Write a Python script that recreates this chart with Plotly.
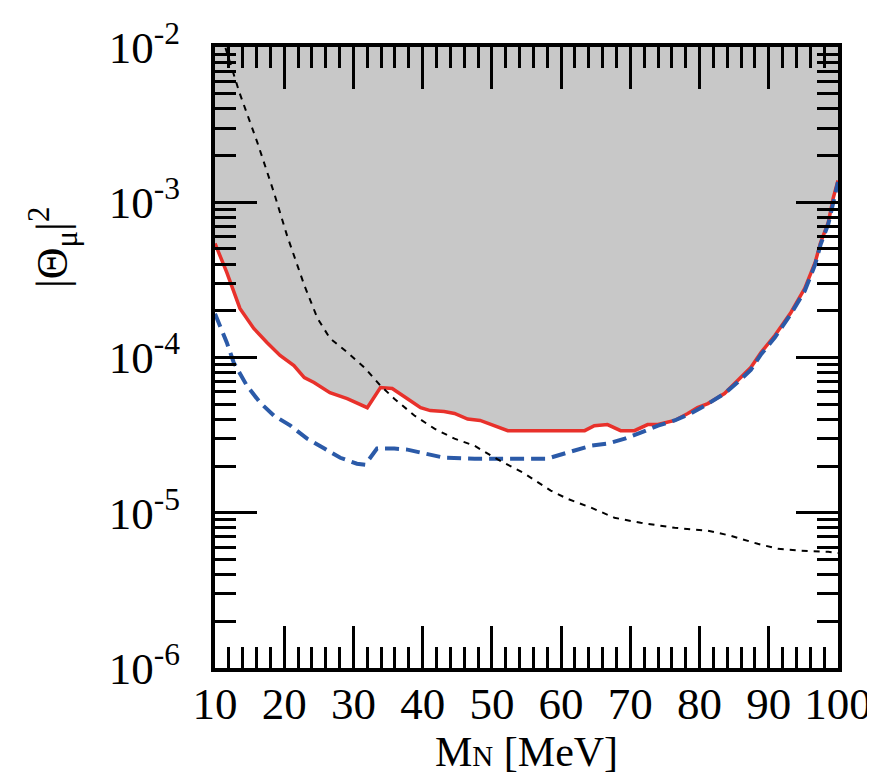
import plotly.graph_objects as go

# ---------------- data ----------------
red_x = [10.0, 11.7, 13.6, 15.6, 17.5, 19.4, 21.4, 22.9, 24.3, 26.6, 29.1, 32.0, 33.9, 35.6,
         37.8, 39.7, 41.1, 43.1, 44.6, 46.5, 48.3, 50.4, 52.3, 63.4, 64.8, 66.7, 68.6, 70.6,
         72.5, 74.0, 76.4, 78.3, 79.7, 81.2, 83.6, 85.5, 87.4, 88.9, 90.9, 93.2, 95.2, 96.7,
         97.5, 98.6, 99.3, 100.0]
red_y = [5.43e-4, 3.53e-4, 2.07e-4, 1.54e-4, 1.25e-4, 1.03e-4, 8.87e-5, 7.43e-5, 6.90e-5,
         5.94e-5, 5.43e-5, 4.75e-5, 6.40e-5, 6.31e-5, 5.43e-5, 4.75e-5, 4.55e-5, 4.49e-5,
         4.36e-5, 4.01e-5, 3.93e-5, 3.64e-5, 3.38e-5, 3.38e-5, 3.64e-5, 3.70e-5, 3.38e-5,
         3.38e-5, 3.70e-5, 3.70e-5, 3.93e-5, 4.36e-5, 4.75e-5, 5.05e-5, 5.86e-5, 7.11e-5,
         8.61e-5, 1.08e-4, 1.39e-4, 1.95e-4, 2.79e-4, 4.10e-4, 5.52e-4, 7.43e-4, 1.06e-3,
         1.38e-3]

blue_x = [10.0, 11.7, 12.7, 14.6, 16.5, 18.5, 20.9, 23.3, 25.8, 28.1, 30.5, 31.7, 33.4, 35.9,
          37.8, 40.7, 43.1, 47.5, 58.0, 60.9, 64.3, 66.7, 69.2, 71.5, 74.0, 76.4, 78.7, 80.8,
          83.6, 85.5, 87.4, 88.9, 90.9, 93.2, 95.2, 96.7, 97.5, 98.6, 99.3, 100.0]
blue_y = [1.91e-4, 1.25e-4, 9.29e-5, 6.59e-5, 5.13e-5, 4.23e-5, 3.64e-5, 3.00e-5, 2.59e-5,
          2.26e-5, 2.07e-5, 2.04e-5, 2.59e-5, 2.59e-5, 2.55e-5, 2.40e-5, 2.26e-5, 2.23e-5,
          2.23e-5, 2.44e-5, 2.70e-5, 2.79e-5, 3.00e-5, 3.28e-5, 3.64e-5, 3.93e-5, 4.36e-5,
          4.90e-5, 5.86e-5, 6.92e-5, 8.32e-5, 1.05e-4, 1.35e-4, 1.91e-4, 2.69e-4, 3.98e-4,
          5.37e-4, 7.24e-4, 1.02e-3, 1.35e-3]

black_x = [11.0, 13.5, 16.1, 18.5, 20.4, 22.9, 24.8, 26.6, 29.1, 31.6, 33.9, 35.9, 38.8, 41.7,
           44.6, 47.5, 50.4, 54.7, 58.5, 60.9, 64.3, 67.7, 71.5, 76.4, 81.2, 84.5, 88.4, 91.3,
           94.6, 98.6, 100.0]
black_y = [1.17e-2, 5.13e-3, 2.44e-3, 1.16e-3, 6.12e-4, 2.92e-4, 1.79e-4, 1.33e-4, 1.08e-4,
           8.61e-5, 6.59e-5, 5.43e-5, 4.23e-5, 3.48e-5, 3.00e-5, 2.70e-5, 2.26e-5, 1.79e-5,
           1.39e-5, 1.23e-5, 1.08e-5, 9.29e-6, 8.61e-6, 8.00e-6, 7.66e-6, 7.11e-6, 6.31e-6,
           5.86e-6, 5.69e-6, 5.60e-6, 5.50e-6]

x_ticks = [10, 20, 30, 40, 50, 60, 70, 80, 90, 100]
y_exponents = [-6, -5, -4, -3, -2]
y_ticks = [10.0 ** e for e in y_exponents]
y_ticktext = ["10<sup>%d</sup>" % e for e in y_exponents]
y_minor = [k * 10.0 ** e for e in y_exponents[:-1] for k in range(2, 10)]
X_MIN, X_MAX = 10, 100
Y_MAX = 1e-2

FONT = "Liberation Serif"

fig = go.Figure()

# upper boundary for the excluded (grey) region
fig.add_trace(go.Scatter(x=red_x, y=[Y_MAX] * len(red_x), mode="lines",
                         line=dict(width=0, color="rgba(0,0,0,0)"), hoverinfo="skip",
                         showlegend=False))
# red bound with grey fill above
fig.add_trace(go.Scatter(x=red_x, y=red_y, mode="lines", fill="tonexty",
                         fillcolor="#c8c8c8", line=dict(color="#e8312b", width=3.5),
                         showlegend=False))
fig.add_trace(go.Scatter(x=blue_x, y=blue_y, mode="lines",
                         line=dict(color="#2b5aa8", width=4, dash="14px,7px"),
                         showlegend=False))
fig.add_trace(go.Scatter(x=black_x, y=black_y, mode="lines",
                         line=dict(color="black", width=2, dash="6px,6px"),
                         showlegend=False))

axis_common = dict(
    showline=True, linecolor="black", linewidth=4, mirror="allticks",
    ticks="inside", ticklen=42, tickwidth=3, tickcolor="black",
    showgrid=False, zeroline=False, automargin=False,
    tickfont=dict(family=FONT, size=45, color="black"),
)

fig.update_xaxes(
    range=[X_MIN, X_MAX], tickvals=x_ticks, ticklabelstandoff=-7,
    minor=dict(dtick=2, ticks="inside", ticklen=21, tickwidth=3, tickcolor="black",
               showgrid=False),
    **axis_common,
)
fig.update_yaxes(
    type="log", range=[-6, -2], tickvals=y_ticks, ticktext=y_ticktext,
    ticklabelstandoff=22,
    minor=dict(tickvals=y_minor, ticks="inside", ticklen=21, tickwidth=3,
               tickcolor="black", showgrid=False),
    **axis_common,
)

# axis titles
fig.add_annotation(
    text="|Θ<sub>μ</sub>|<sup>2</sup>", textangle=-90, showarrow=False,
    xref="paper", yref="paper", x=(45 - 207) / 623, y=(660 - 240) / 621,
    xanchor="center", yanchor="middle",
    font=dict(family=FONT, size=44, color="black"),
)
fig.add_annotation(
    text="M<span style='font-size:29px'>N</span> [MeV]", showarrow=False,
    xref="paper", yref="paper", x=0.5, y=(660 - 744) / 621,
    xanchor="center", yanchor="middle",
    font=dict(family=FONT, size=42, color="black"),
)

fig.update_layout(
    width=875, height=775,
    margin=dict(l=207, r=45, t=39, b=115),
    plot_bgcolor="white", paper_bgcolor="white",
)

fig.write_html("out.html")
